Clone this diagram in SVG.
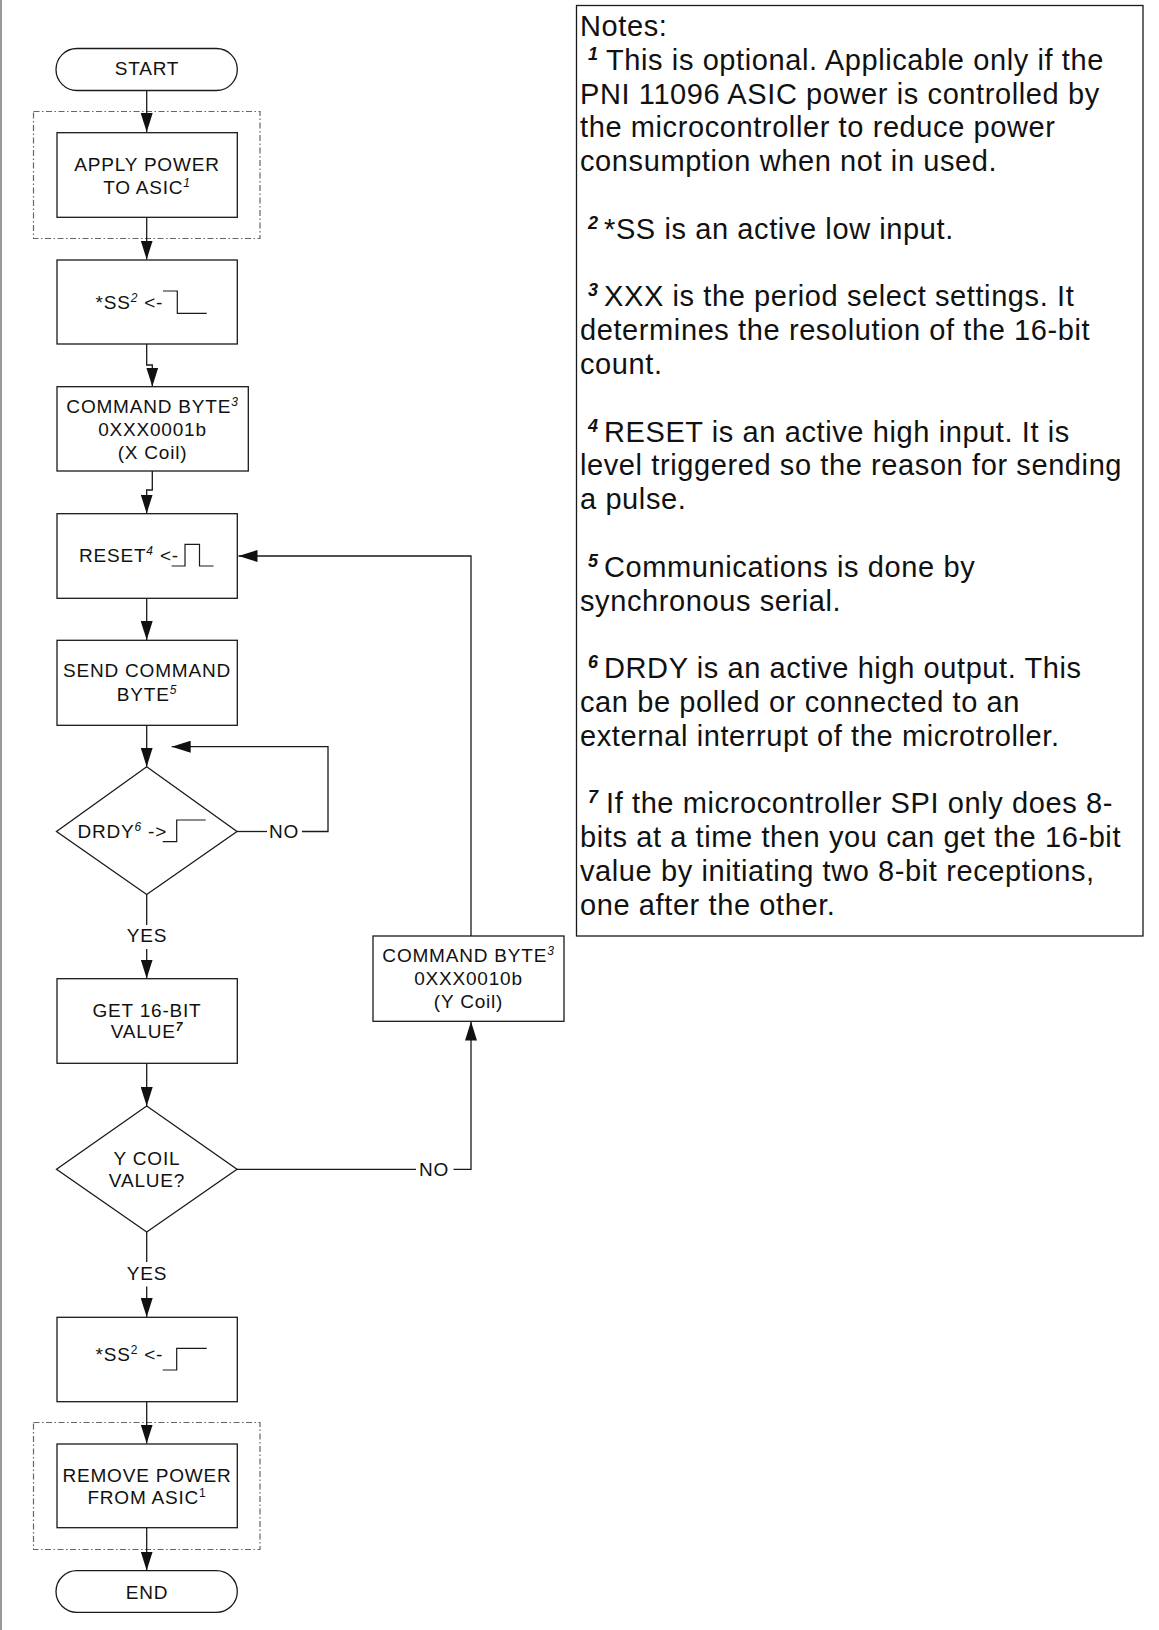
<svg xmlns="http://www.w3.org/2000/svg" width="1159" height="1630" viewBox="0 0 1159 1630">
<defs>
<style>
.box{fill:#fff;stroke:#1a1a1a;stroke-width:1.3}
.grp{fill:none;stroke:#666;stroke-width:1.2;stroke-dasharray:6 2.5 1.5 2.5}
.ln{fill:none;stroke:#1a1a1a;stroke-width:1.3}
.wave{fill:none;stroke:#1a1a1a;stroke-width:1.2}
.t{font-family:"Liberation Sans",Arial,sans-serif;font-size:19px;letter-spacing:0.8px;fill:#111}
.c{text-anchor:middle}
.sup{font-size:12px;font-style:italic}
.n{font-family:"Liberation Sans",Arial,sans-serif;font-size:29px;letter-spacing:0.6px;fill:#111}
.ns{font-family:"Liberation Sans",Arial,sans-serif;font-size:18px;font-weight:bold;font-style:italic;fill:#111}
</style>
<marker id="ah" markerUnits="userSpaceOnUse" markerWidth="20" markerHeight="12" refX="19" refY="6" orient="auto">
<path d="M0,0 L19,6 L0,12 z" fill="#111"/>
</marker>
</defs>
<rect width="1159" height="1630" fill="#fff"/>
<line x1="1" y1="0" x2="1" y2="1630" stroke="#999" stroke-width="2"/>

<g id="groups">
<rect class="grp" x="33.5" y="111.5" width="226.5" height="127"/>
<rect class="grp" x="33.5" y="1422.5" width="226.5" height="127"/>
</g>

<g id="connectors">
<line class="ln" x1="146.7" y1="90.5" x2="146.7" y2="132" marker-end="url(#ah)"/>
<line class="ln" x1="146.7" y1="217.3" x2="146.7" y2="259.5" marker-end="url(#ah)"/>
<path class="ln" d="M146.7,344 V365 H152.3 V386.5" marker-end="url(#ah)"/>
<path class="ln" d="M152.3,471 V490 H146.7 V513.5" marker-end="url(#ah)"/>
<line class="ln" x1="146.7" y1="598.3" x2="146.7" y2="640" marker-end="url(#ah)"/>
<line class="ln" x1="146.7" y1="725.3" x2="146.7" y2="766.7" marker-end="url(#ah)"/>
<path class="ln" d="M237,831.5 H267"/>
<path class="ln" d="M302,831.5 H328 V746.7 H171.7" marker-end="url(#ah)"/>
<line class="ln" x1="146.7" y1="894.5" x2="146.7" y2="925"/>
<line class="ln" x1="146.7" y1="949" x2="146.7" y2="978.5" marker-end="url(#ah)"/>
<line class="ln" x1="146.7" y1="1063.3" x2="146.7" y2="1106" marker-end="url(#ah)"/>
<path class="ln" d="M237,1169.3 H416"/>
<path class="ln" d="M453.5,1169.3 H471 V1021.5" marker-end="url(#ah)"/>
<path class="ln" d="M471,936 V556 H238.5" marker-end="url(#ah)"/>
<line class="ln" x1="146.7" y1="1232" x2="146.7" y2="1262"/>
<line class="ln" x1="146.7" y1="1286.5" x2="146.7" y2="1317" marker-end="url(#ah)"/>
<line class="ln" x1="146.7" y1="1401.7" x2="146.7" y2="1443.5" marker-end="url(#ah)"/>
<line class="ln" x1="146.7" y1="1527.7" x2="146.7" y2="1570.5" marker-end="url(#ah)"/>
<text class="t c" x="284" y="838">NO</text>
<text class="t c" x="434" y="1176">NO</text>
<text class="t c" x="147" y="942">YES</text>
<text class="t c" x="147" y="1279.5">YES</text>
</g>

<g id="start">
<rect class="box" x="56" y="48.5" width="181.3" height="42" rx="21"/>
<text class="t c" x="147" y="75">START</text>
</g>

<g id="apply-power">
<rect class="box" x="57" y="132.7" width="180.3" height="84.6"/>
<text class="t c" x="147" y="170.5">APPLY POWER</text>
<text class="t c" x="147" y="193.5">TO ASIC<tspan class="sup" dy="-7">1</tspan></text>
</g>

<g id="ss-low">
<rect class="box" x="57" y="260" width="180.3" height="84"/>
<text class="t" x="95.5" y="308.5">*SS<tspan class="sup" dy="-7">2</tspan><tspan dy="7"> &lt;-</tspan></text>
<path class="wave" d="M163,291 H177.3 V313.3 H206.7"/>
</g>

<g id="cmd-x">
<rect class="box" x="57" y="386.7" width="191.3" height="84.3"/>
<text class="t c" x="152.5" y="412.5">COMMAND BYTE<tspan class="sup" dy="-7">3</tspan></text>
<text class="t c" x="152.5" y="435.5">0XXX0001b</text>
<text class="t c" x="152.5" y="458.5">(X Coil)</text>
</g>

<g id="reset">
<rect class="box" x="57" y="513.7" width="180.3" height="84.6"/>
<text class="t" x="79" y="562">RESET<tspan class="sup" dy="-7">4</tspan><tspan dy="7"> &lt;-</tspan></text>
<path class="wave" d="M171.7,566 H185 V544.3 H199.5 V566 H213.5"/>
</g>

<g id="send-command">
<rect class="box" x="57" y="640.3" width="180.3" height="85"/>
<text class="t c" x="147" y="677">SEND COMMAND</text>
<text class="t c" x="147" y="700.5">BYTE<tspan class="sup" dy="-7">5</tspan></text>
</g>

<g id="drdy">
<polygon class="box" points="146.7,766.7 237,831.5 146.7,894.5 56.5,831.5"/>
<text class="t" x="77.5" y="837.5">DRDY<tspan class="sup" dy="-7">6</tspan><tspan dy="7"> -&gt;</tspan></text>
<path class="wave" d="M162.7,841.7 H176.7 V820 H205.7"/>
</g>

<g id="get-value">
<rect class="box" x="57" y="978.7" width="180.3" height="84.6"/>
<text class="t c" x="147" y="1016.5">GET 16-BIT</text>
<text class="t c" x="147" y="1038">VALUE<tspan class="sup" dy="-7" font-style="normal" font-weight="bold">7</tspan></text>
</g>

<g id="y-coil">
<polygon class="box" points="146.7,1106 237,1169.3 146.7,1232 56.5,1169.3"/>
<text class="t c" x="147" y="1164.5">Y COIL</text>
<text class="t c" x="147" y="1186.5">VALUE?</text>
</g>

<g id="cmd-y">
<rect class="box" x="373" y="936" width="191" height="85.3"/>
<text class="t c" x="468.5" y="962">COMMAND BYTE<tspan class="sup" dy="-7">3</tspan></text>
<text class="t c" x="468.5" y="985">0XXX0010b</text>
<text class="t c" x="468.5" y="1008">(Y Coil)</text>
</g>

<g id="ss-high">
<rect class="box" x="57" y="1317.3" width="180.3" height="84.4"/>
<text class="t" x="95.5" y="1360.5">*SS<tspan font-size="12" dy="-7">2</tspan><tspan dy="7"> &lt;-</tspan></text>
<path class="wave" d="M162.7,1370 H176.7 V1348.3 H206.7"/>
</g>

<g id="remove-power">
<rect class="box" x="57" y="1444" width="180.3" height="83.7"/>
<text class="t c" x="147" y="1482">REMOVE POWER</text>
<text class="t c" x="147" y="1504">FROM ASIC<tspan font-size="12" dy="-7">1</tspan></text>
</g>

<g id="end">
<rect class="box" x="56" y="1570.7" width="181.3" height="41.6" rx="21"/>
<text class="t c" x="147" y="1598.5">END</text>
</g>

<g id="notes">
<rect x="576.5" y="5.5" width="566.5" height="930.5" fill="#fff" stroke="#1a1a1a" stroke-width="1.3"/>
<text class="n" x="580" y="36">Notes:</text>
<text class="ns" x="588" y="60">1</text>
<text class="n" x="606" y="70">This is optional. Applicable only if the</text>
<text class="n" x="580" y="103.6">PNI 11096 ASIC power is controlled by</text>
<text class="n" x="580" y="137.4">the microcontroller to reduce power</text>
<text class="n" x="580" y="171.2">consumption when not in used.</text>
<text class="ns" x="588" y="228.8">2</text>
<text class="n" x="604" y="238.8">*SS is an active low input.</text>
<text class="ns" x="588" y="296.4">3</text>
<text class="n" x="604" y="306.4">XXX is the period select settings. It</text>
<text class="n" x="580" y="340.2">determines the resolution of the 16-bit</text>
<text class="n" x="580" y="374">count.</text>
<text class="ns" x="588" y="431.6">4</text>
<text class="n" x="604" y="441.6">RESET is an active high input. It is</text>
<text class="n" x="580" y="475.4">level triggered so the reason for sending</text>
<text class="n" x="580" y="509.2">a pulse.</text>
<text class="ns" x="588" y="566.8">5</text>
<text class="n" x="604" y="576.8">Communications is done by</text>
<text class="n" x="580" y="610.6">synchronous serial.</text>
<text class="ns" x="588" y="668.2" font-style="normal">6</text>
<text class="n" x="604" y="678.2">DRDY is an active high output. This</text>
<text class="n" x="580" y="712">can be polled or connected to an</text>
<text class="n" x="580" y="745.8">external interrupt of the microtroller.</text>
<text class="ns" x="588" y="803.4">7</text>
<text class="n" x="606" y="813.4">If the microcontroller SPI only does 8-</text>
<text class="n" x="580" y="847.2">bits at a time then you can get the 16-bit</text>
<text class="n" x="580" y="881">value by initiating two 8-bit receptions,</text>
<text class="n" x="580" y="914.8">one after the other.</text>
</g>
</svg>
